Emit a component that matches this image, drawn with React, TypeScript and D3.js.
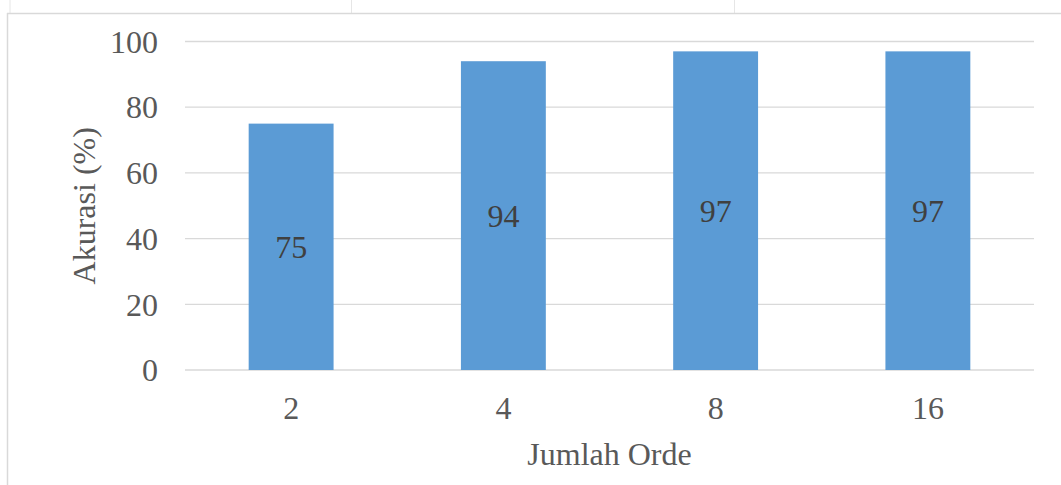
import React from "react";
import * as d3 from "d3";

const categories = ["2", "4", "8", "16"];
const accuracy = [75, 94, 97, 97];
const yTicks = [0, 20, 40, 60, 80, 100];

const width = 1061;
const height = 485;
const margin = { top: 41.5, right: 27, bottom: 115, left: 185 };

const App: React.FC = () => {
  const x = d3
    .scaleBand<string>()
    .domain(categories)
    .range([margin.left, width - margin.right])
    .paddingInner(0.6)
    .paddingOuter(0.3);

  const y = d3
    .scaleLinear()
    .domain([0, 100])
    .range([height - margin.bottom, margin.top]);

  const font = '"Liberation Serif", "DejaVu Serif", serif';
  const textColor = "#595959";
  const gridColor = "#d9d9d9";
  const plotLeft = margin.left;
  const plotRight = width - margin.right;
  const txt = { fontFamily: font, fontSize: "32px" };

  return (
    <svg
      width={width}
      height={height}
      style={{ position: "absolute", left: 0, top: 0, background: "#fff", fontFamily: font }}
    >
      {/* frame / table borders */}
      <line x1={10} x2={10} y1={0} y2={13} stroke="#e6e6e6" />
      <line x1={351.5} x2={351.5} y1={0} y2={13} stroke="#e6e6e6" />
      <line x1={734.5} x2={734.5} y1={0} y2={13} stroke="#e6e6e6" />
      <line x1={7} x2={width} y1={13.5} y2={13.5} stroke={gridColor} strokeWidth={1.5} />
      <line x1={7.5} x2={7.5} y1={13} y2={height} stroke={gridColor} strokeWidth={1.5} />

      {/* gridlines */}
      {yTicks.map((t) => (
        <line
          key={t}
          x1={plotLeft}
          x2={plotRight}
          y1={y(t)}
          y2={y(t)}
          stroke={gridColor}
          strokeWidth={1.3}
        />
      ))}

      {/* y tick labels */}
      {yTicks.map((t) => (
        <text key={"l" + t} x={158} y={y(t)} dy="0.35em" textAnchor="end" style={txt} fill={textColor}>
          {t}
        </text>
      ))}

      {/* bars */}
      {categories.map((c, i) => (
        <rect
          key={c}
          x={x(c)}
          y={y(accuracy[i])}
          width={x.bandwidth()}
          height={y(0) - y(accuracy[i])}
          fill="#5b9bd5"
        />
      ))}

      {/* data labels */}
      {categories.map((c, i) => (
        <text
          key={"d" + c}
          x={x(c)! + x.bandwidth() / 2}
          y={(y(accuracy[i]) + y(0)) / 2}
          dy="0.35em"
          textAnchor="middle"
          style={txt}
          fill="#404040"
        >
          {accuracy[i]}
        </text>
      ))}

      {/* x tick labels */}
      {categories.map((c) => (
        <text
          key={"x" + c}
          x={x(c)! + x.bandwidth() / 2}
          y={419}
          textAnchor="middle"
          style={txt}
          fill={textColor}
        >
          {c}
        </text>
      ))}

      {/* axis titles */}
      <text x={(plotLeft + plotRight) / 2} y={465} textAnchor="middle" style={txt} fill={textColor}>
        Jumlah Orde
      </text>
      <text
        transform={`translate(95,${(y(0) + y(100)) / 2}) rotate(-90)`}
        textAnchor="middle"
        style={txt}
        fill={textColor}
      >
        Akurasi (%)
      </text>
    </svg>
  );
};

export default App;
